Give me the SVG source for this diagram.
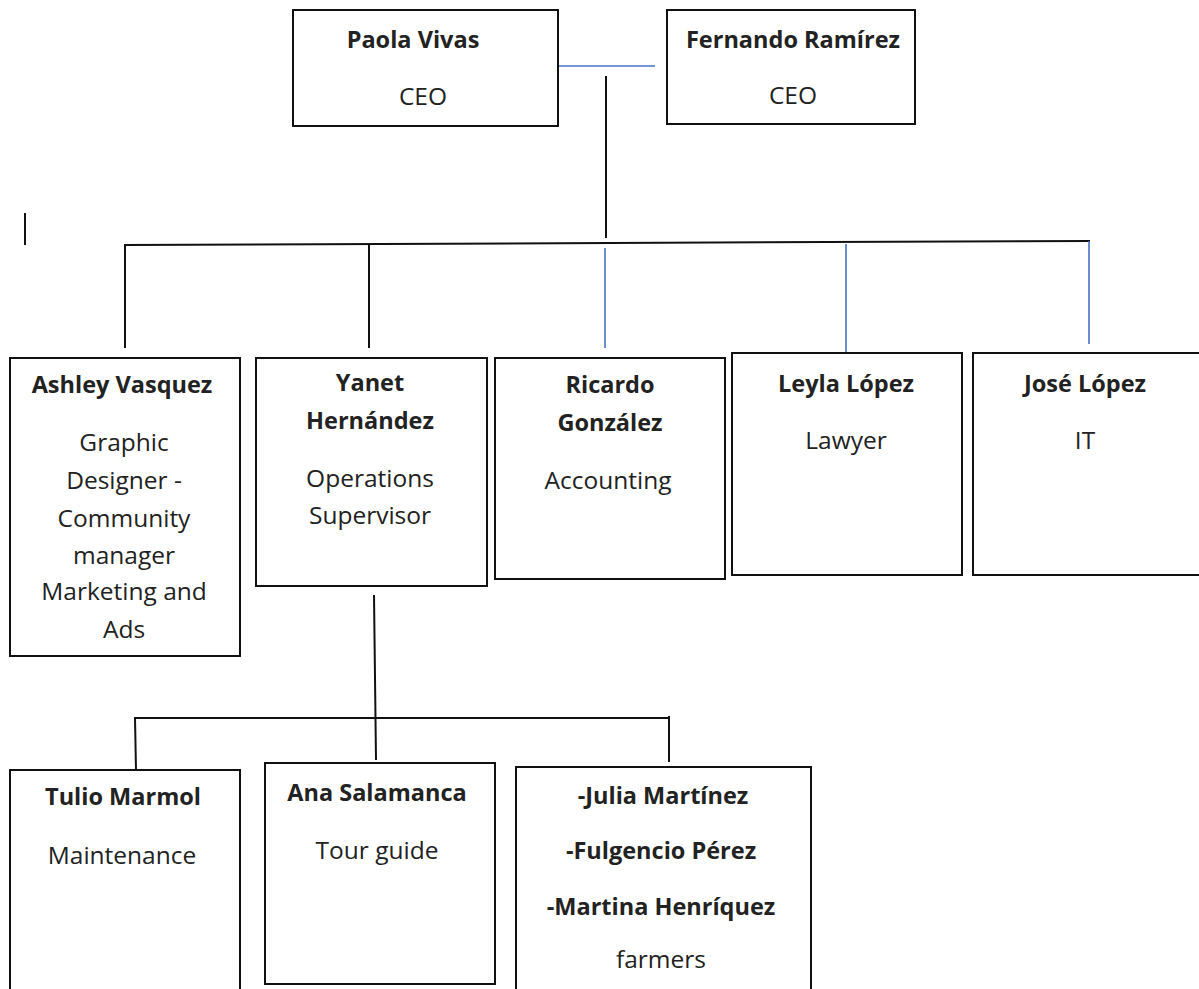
<svg xmlns="http://www.w3.org/2000/svg" width="1199" height="989" viewBox="0 0 1199 989">
<style>
.box{fill:#fff;stroke:#111;stroke-width:2}
.t{font-family:"Open Sans",Lato,sans-serif;font-size:24.5px;fill:#222;text-anchor:middle}
.b{font-weight:bold;font-size:23.5px}
.k{stroke:#111;stroke-width:2;fill:none}
.bl{stroke:#4472C4;stroke-width:1.6;fill:none}
</style>
<rect width="1199" height="989" fill="#fff"/>
<g id="connectors">
<line class="bl" x1="558" y1="66" x2="655" y2="66"/>
<line class="k" x1="606" y1="76" x2="606" y2="238"/>
<line class="k" x1="124" y1="245" x2="1090" y2="241"/>
<line class="k" x1="125" y1="245" x2="125" y2="348"/>
<line class="k" x1="369" y1="245" x2="369" y2="348"/>
<line class="bl" x1="605" y1="248" x2="605" y2="348"/>
<line class="bl" x1="846" y1="244" x2="846" y2="352"/>
<line class="bl" x1="1089" y1="241" x2="1089" y2="344"/>
<line class="k" x1="25" y1="213" x2="25" y2="245"/>
<line class="k" x1="374" y1="595" x2="376" y2="760"/>
<line class="k" x1="134" y1="718" x2="669" y2="718"/>
<line class="k" x1="135" y1="718" x2="136" y2="770"/>
<line class="k" x1="669" y1="716" x2="669" y2="762"/>
</g>
<g id="paola">
<rect class="box" x="293" y="10" width="265" height="116"/>
<text class="t b" x="413" y="48">Paola Vivas</text>
<text class="t" x="423" y="105">CEO</text>
</g>
<g id="fernando">
<rect class="box" x="667" y="10" width="248" height="114"/>
<text class="t b" x="793" y="48">Fernando Ramírez</text>
<text class="t" x="793" y="104">CEO</text>
</g>
<g id="ashley">
<rect class="box" x="10" y="358" width="230" height="298"/>
<text class="t b" x="122" y="393">Ashley Vasquez</text>
<text class="t" x="124" y="451">Graphic</text>
<text class="t" x="124" y="489">Designer -</text>
<text class="t" x="124" y="527">Community</text>
<text class="t" x="124" y="564">manager</text>
<text class="t" x="124" y="600">Marketing and</text>
<text class="t" x="124" y="638">Ads</text>
</g>
<g id="yanet">
<rect class="box" x="256" y="358" width="231" height="228"/>
<text class="t b" x="370" y="391">Yanet</text>
<text class="t b" x="370" y="429">Hernández</text>
<text class="t" x="370" y="487">Operations</text>
<text class="t" x="370" y="524">Supervisor</text>
</g>
<g id="ricardo">
<rect class="box" x="495" y="358" width="230" height="221"/>
<text class="t b" x="610" y="393">Ricardo</text>
<text class="t b" x="610" y="431">González</text>
<text class="t" x="608" y="489">Accounting</text>
</g>
<g id="leyla">
<rect class="box" x="732" y="353" width="230" height="222"/>
<text class="t b" x="846" y="392">Leyla López</text>
<text class="t" x="846" y="449">Lawyer</text>
</g>
<g id="jose">
<rect class="box" x="973" y="353" width="232" height="222"/>
<text class="t b" x="1085" y="392">José López</text>
<text class="t" x="1085" y="449">IT</text>
</g>
<g id="tulio">
<rect class="box" x="10" y="770" width="230" height="225"/>
<text class="t b" x="123" y="805">Tulio Marmol</text>
<text class="t" x="122" y="864">Maintenance</text>
</g>
<g id="ana">
<rect class="box" x="265" y="763" width="230" height="221"/>
<text class="t b" x="377" y="801">Ana Salamanca</text>
<text class="t" x="377" y="859">Tour guide</text>
</g>
<g id="farmers">
<rect class="box" x="516" y="767" width="295" height="230"/>
<text class="t b" x="663" y="804">-Julia Martínez</text>
<text class="t b" x="661" y="859">-Fulgencio Pérez</text>
<text class="t b" x="661" y="915">-Martina Henríquez</text>
<text class="t" x="661" y="968">farmers</text>
</g>
</svg>
